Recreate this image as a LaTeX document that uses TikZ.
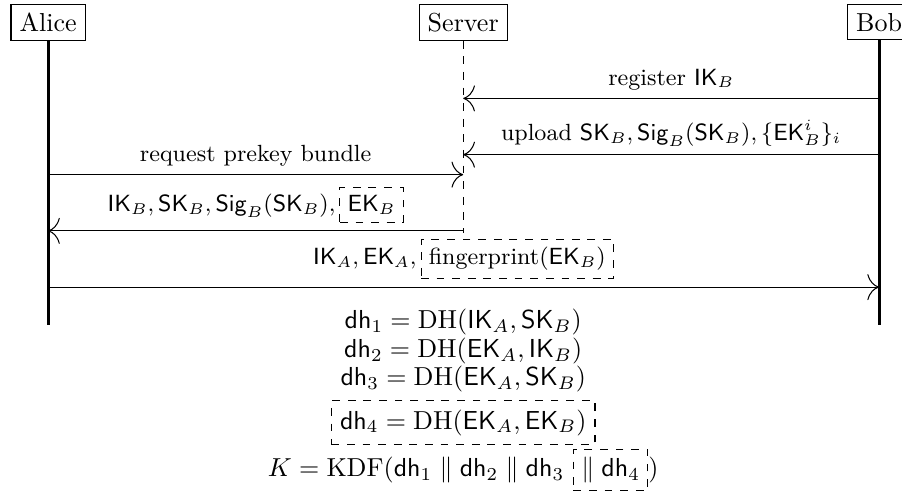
\documentclass[tikz,border=0pt]{standalone}
\usepackage{amsmath,amssymb}
\usepackage{tikz}
\usetikzlibrary{positioning,arrows.meta}
\newcommand{\dbox}[1]{\tikz[baseline=(dbx.base)]\node[draw,dashed,inner sep=3pt](dbx){#1};}

\begin{document}
\begin{tikzpicture}[
  >={To[length=4.5pt,width=10pt]},
  actor/.style={draw, inner sep=3.3pt},
  life/.style={line width=1.2pt},
  labl/.style={above, inner sep=3pt, font=\small}
]
\useasboundingbox (0,0) rectangle (12.19,-6.69);

% Actors (x = lifeline, 1cm = 74px)
\node[actor] (alice)  at (0.65,-0.30)  {Alice};
\node[actor] (server) at (6.26,-0.30)  {Server};
\node[actor] (bob)    at (11.88,-0.30) {Bob};

% Lifelines
\coordinate (alice-end)  at (alice |- 0,-4.39);
\coordinate (server-end) at (server |- 0,-3.15);
\coordinate (bob-end)    at (bob |- 0,-4.39);
\draw[life] (alice) -- (alice-end);
\draw[dashed] (server) -- (server-end);
\draw[life] (bob) -- (bob-end);

% Message ends on the lifelines
\coordinate (bob-1)    at (bob |- 0,-1.33);
\coordinate (server-1) at (server |- 0,-1.33);
\coordinate (bob-2)    at (bob |- 0,-2.09);
\coordinate (server-2) at (server |- 0,-2.09);
\coordinate (alice-3)  at (alice |- 0,-2.36);
\coordinate (server-3) at (server |- 0,-2.36);
\coordinate (server-4) at (server |- 0,-3.12);
\coordinate (alice-4)  at (alice |- 0,-3.12);
\coordinate (alice-5)  at (alice |- 0,-3.88);
\coordinate (bob-5)    at (bob |- 0,-3.88);

% Messages
\draw[->] (bob-1) -- node[labl] (m1) {register $\mathsf{IK}_B$} (server-1);
\draw[->] (bob-2) -- node[labl] (m2) {upload $\mathsf{SK}_B, \mathsf{Sig}_B(\mathsf{SK}_B), \{\mathsf{EK}_B^i\}_i$} (server-2);
\draw[->] (alice-3) -- node[labl] (m3) {request prekey bundle} (server-3);
\draw[->] (server-4) -- node[labl] (m4) {$\mathsf{IK}_B, \mathsf{SK}_B, \mathsf{Sig}_B(\mathsf{SK}_B),$\,\dbox{$\mathsf{EK}_B$}} (alice-4);
\draw[->] (alice-5) -- node[labl] (m5) {$\mathsf{IK}_A, \mathsf{EK}_A,$\,\dbox{fingerprint$(\mathsf{EK}_B)$}} (bob-5);

% Key derivation
\node[inner sep=0pt] (eq1) at (6.26,-4.35) {$\mathsf{dh}_1 = \mathrm{DH}(\mathsf{IK}_A, \mathsf{SK}_B)$};
\node[inner sep=0pt] (eq2) at (6.26,-4.74) {$\mathsf{dh}_2 = \mathrm{DH}(\mathsf{EK}_A, \mathsf{IK}_B)$};
\node[inner sep=0pt] (eq3) at (6.26,-5.12) {$\mathsf{dh}_3 = \mathrm{DH}(\mathsf{EK}_A, \mathsf{SK}_B)$};
\node[draw,dashed,inner sep=3.3pt] (eq4) at (6.26,-5.71) {$\mathsf{dh}_4 = \mathrm{DH}(\mathsf{EK}_A, \mathsf{EK}_B)$};
\node[inner sep=0pt] (eq5) at (6.26,-6.35) {$K = \mathrm{KDF}(\mathsf{dh}_1 \parallel \mathsf{dh}_2 \parallel \mathsf{dh}_3$ \dbox{$\parallel \mathsf{dh}_4$}$)$};
\end{tikzpicture}
\end{document}
